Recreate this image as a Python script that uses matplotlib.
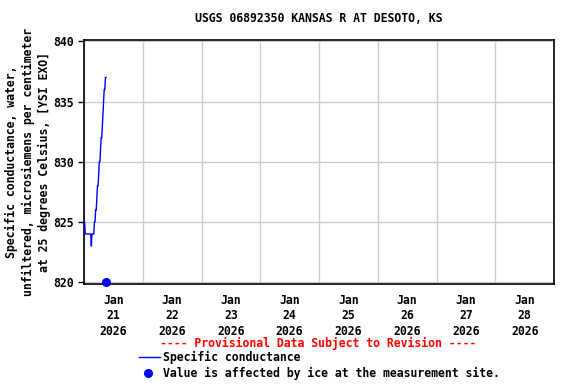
import matplotlib
matplotlib.use("Agg")
import matplotlib.pyplot as plt
import matplotlib.dates as mdates
from matplotlib.lines import Line2D
import numpy as np
import pandas as pd

# ---- data ----
times = pd.date_range("2026-01-21 00:00", "2026-01-21 09:00", freq="15min")
conductance = [825, 825, 824, 824, 824, 824, 824, 824, 824, 824, 824, 824,
               823, 824, 824, 824, 824,
               825, 825, 826, 826, 827, 828, 828, 829, 830, 830, 831, 832,
               832, 833, 834, 835, 836, 836, 837, 837]
ice_times = [pd.Timestamp("2026-01-21 09:00")]
ice_values = [820]
tick_days = pd.date_range("2026-01-21", "2026-01-28", freq="D")
tick_labels = [f"{d.strftime('%b')}\n{d.day}\n{d.year}" for d in tick_days]
title = "USGS 06892350 KANSAS R AT DESOTO, KS"
ylabel = ("Specific conductance, water,\n"
          "unfiltered, microsiemens per centimeter\n"
          "at 25 degrees Celsius, [YSI EXO]")

FONT = "DejaVu Sans Mono"
FS = 8.3
plt.rcParams["font.family"] = FONT
plt.rcParams["font.weight"] = "bold"

fig = plt.figure(figsize=(5.76, 3.84), dpi=100)
W, H = 576, 384
ax = fig.add_axes([84 / W, 1 - 284 / H, (554 - 84) / W, (284 - 39.5) / H])

ax.plot(times, conductance, color="#0000ff", lw=1.0, zorder=3)
ax.plot(ice_times, ice_values, "o", color="#0000ff", ms=5.5, zorder=4, clip_on=False)

ax.set_xlim(pd.Timestamp("2026-01-21"), pd.Timestamp("2026-01-29"))
ax.set_ylim(819.85, 840.15)

# gridlines at midnight, labels at noon
ax.xaxis.set_major_locator(mdates.DayLocator())
ax.xaxis.set_major_formatter(plt.NullFormatter())
ax.set_xticks([d + pd.Timedelta(hours=12) for d in tick_days], minor=True)
ax.set_xticklabels(tick_labels, minor=True, fontsize=FS, fontweight="bold",
                   linespacing=1.25)
ax.tick_params(axis="x", which="both", length=0, pad=7)

ax.set_yticks([820, 825, 830, 835, 840])
ax.set_yticklabels(["820", "825", "830", "835", "840"], fontsize=FS, fontweight="bold")
ax.tick_params(axis="y", length=4, width=1, direction="out", pad=3)

ax.grid(True, which="major", color="#cccccc", lw=1)
ax.set_axisbelow(True)
for s in ax.spines.values():
    s.set_linewidth(1.2)
    s.set_color("black")

fig.text(319 / W, 1 - 19 / H, title, ha="center", va="center",
         fontsize=FS, fontweight="bold")
fig.text(28 / W, 1 - 162 / H, ylabel, ha="center", va="center", rotation=90,
         fontsize=FS, fontweight="bold", linespacing=1.3, multialignment="center")

# legend-like annotations
fig.text(318 / W, 1 - 343 / H, "---- Provisional Data Subject to Revision ----",
         ha="center", va="center", color="#ff0000", fontsize=FS, fontweight="bold")
fig.add_artist(Line2D([139 / W, 160 / W], [1 - 357 / H, 1 - 357 / H],
                      color="#0000ff", lw=1.0, transform=fig.transFigure))
fig.text(163 / W, 1 - 357 / H, "Specific conductance", ha="left", va="center",
         fontsize=FS, fontweight="bold")
fig.add_artist(Line2D([148 / W], [1 - 373 / H], marker="o", color="#0000ff",
                      ms=5.5, transform=fig.transFigure))
fig.text(163 / W, 1 - 373 / H, "Value is affected by ice at the measurement site.",
         ha="left", va="center", fontsize=FS, fontweight="bold")

fig.savefig("out.png", dpi=100)
